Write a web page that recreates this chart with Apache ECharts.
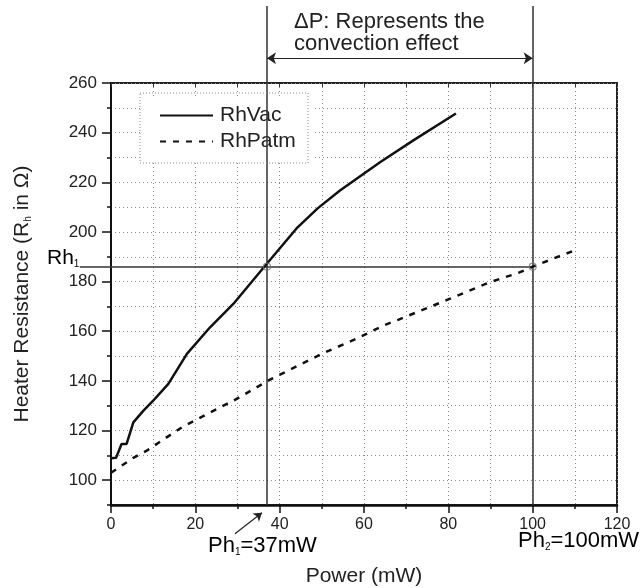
<!DOCTYPE html>
<html><head><meta charset="utf-8">
<script src="https://cdn.jsdelivr.net/npm/echarts@6/dist/echarts.min.js"></script>
<style>html,body{margin:0;padding:0;background:#fff}#c{width:643px;height:588px}</style>
</head><body><div id="c"></div>
<script>
// ---- data ----
const powerVac = [0, 1.2, 2.5, 3.7, 5.3, 7.7, 10, 13.6, 18, 23.5, 29, 36.5, 44, 49, 54.3, 63.8, 71.7, 81.8];
const rhVac    = [108.8, 109, 114.6, 114.6, 123.3, 128, 132, 138.8, 150.9, 161.6, 171, 186.3, 201.4, 209.5, 216.7, 228.1, 236.9, 247.7];
const powerAtm = [0, 2.5, 5.3, 8.5, 11.2, 16.8, 23.5, 29, 37.7, 50, 59, 64.6, 68.1, 80.4, 89.9, 96.6, 100, 109.5];
const rhAtm    = [103, 105.8, 109, 111.9, 115, 121.3, 127.3, 132, 140.5, 150.9, 157.6, 162.3, 164.6, 173.1, 179.8, 183.5, 186, 192.3];
const xTicks = [0, 20, 40, 60, 80, 100, 120];
const yTicks = [100, 120, 140, 160, 180, 200, 220, 240, 260];
const ph1 = 37, ph2 = 100, rh1 = 186;
const guideTop = 291;        // guide lines extend above the frame
const guideBottom = 90;
const arrowLevel = 270;      // ΔP double arrow level
const rhLineStart = -7.4;    // Rh1 line starts left of the axis
const ph1ArrowFrom = [29.4, 78.4];
const ph1ArrowTo = [35.8, 86.9];

const FONT = '"Liberation Sans", Arial, sans-serif';
const zip = (a, b) => a.map((v, i) => [v, b[i]]);
const dotted = { color: '#8a8a8a', width: 1, type: [1, 3] };
const richSub = (big, lh) => ({
  a: { fontSize: big, fontFamily: FONT, color: '#222', lineHeight: lh, verticalAlign: 'bottom' },
  s: { fontSize: 10, fontFamily: FONT, color: '#222', lineHeight: 12, verticalAlign: 'bottom' }
});

const chart = echarts.init(document.getElementById('c'), null, { renderer: 'canvas' });
chart.setOption({
  animation: false,
  backgroundColor: '#fff',
  textStyle: { fontFamily: FONT },
  grid: { left: 111, right: 26, top: 83, bottom: 83, outerBoundsMode: 'none', containLabel: false,
          show: true, borderColor: '#222', borderWidth: 2, backgroundColor: 'transparent' },
  xAxis: [
    {
      type: 'value', min: 0, max: 120, interval: 10, position: 'bottom',
      axisLine: { lineStyle: { color: '#111', width: 2.5 } },
      axisTick: { length: 4, lineStyle: { color: '#111', width: 1.5 } },
      axisLabel: { customValues: xTicks, fontSize: 16, color: '#222', margin: 12, fontFamily: FONT },
      splitLine: { show: true, lineStyle: dotted },
      name: 'Power (mW)', nameLocation: 'middle', nameGap: 61,
      nameTextStyle: { fontSize: 21, color: '#222', fontFamily: FONT }
    },
    {
      type: 'value', min: 0, max: 120, position: 'bottom',
      axisLine: { show: false },
      axisTick: { customValues: xTicks, length: 8, lineStyle: { color: '#111', width: 1.5 } },
      axisLabel: { show: false }, splitLine: { show: false }
    },
    {
      type: 'value', min: 0, max: 120, interval: 10, position: 'top',
      axisLine: { show: false },
      axisTick: { inside: true, length: 4, lineStyle: { color: '#333', width: 1 } },
      axisLabel: { show: false }, splitLine: { show: false }
    }
  ],
  yAxis: [
    {
      type: 'value', min: 90, max: 260, interval: 10, position: 'left',
      axisLine: { show: true, lineStyle: { color: '#111', width: 2 } },
      axisTick: { show: true, length: 4, lineStyle: { color: '#111', width: 1.5 } },
      axisLabel: { customValues: yTicks, fontSize: 17, color: '#222', margin: 14, fontFamily: FONT },
      splitLine: { show: true, lineStyle: dotted },
      name: 'Heater Resistance (R{s|h} in Ω)', nameLocation: 'middle', nameGap: 78,
      nameTextStyle: { fontSize: 21, color: '#222', fontFamily: FONT,
        rich: { s: { fontSize: 10, verticalAlign: 'bottom', fontFamily: FONT, color: '#222' } } }
    },
    {
      type: 'value', min: 90, max: 260, position: 'left',
      axisLine: { show: false },
      axisTick: { show: true, customValues: yTicks, length: 9, lineStyle: { color: '#111', width: 1.5 } },
      axisLabel: { show: false }, splitLine: { show: false }
    }
  ],
  legend: {
    data: ['RhVac', 'RhPatm'], orient: 'vertical', left: 141, top: 96,
    itemWidth: 53, itemHeight: 14, itemGap: 5,
    padding: [9, 18, 9, 18],
    backgroundColor: '#fff',
    itemStyle: { opacity: 0 },
    lineStyle: { opacity: 1 },
    textStyle: { fontSize: 21, color: '#222', fontFamily: FONT, padding: [0, 0, 0, 2] }
  },
  graphic: [
    { type: 'rect', z: 100, shape: { x: 140, y: 93, width: 168, height: 70 },
      style: { fill: 'none', stroke: '#888', lineWidth: 1, lineDash: [1, 2] } },
    { type: 'text', z: 100, left: 294, top: 11,
      style: { text: 'ΔP: Represents the', font: '22px ' + FONT, fill: '#222' } },
    { type: 'text', z: 100, left: 294, top: 33,
      style: { text: 'convection effect', font: '22px ' + FONT, fill: '#222' } },
    { type: 'text', z: 100, left: 47, top: 248,
      style: { text: '{a|Rh}{s|1}', rich: richSub(21, 24) } },
    { type: 'text', z: 100, left: 208, top: 535,
      style: { text: '{a|Ph}{s|1}{a|=37mW}', rich: richSub(22, 25) } },
    { type: 'text', z: 100, left: 518, top: 530,
      style: { text: '{a|Ph}{s|2}{a|=100mW}', rich: richSub(22, 25) } }
  ],
  series: [
    {
      name: 'RhVac', type: 'line', data: zip(powerVac, rhVac), showSymbol: false, symbol: 'none',
      lineStyle: { color: '#111', width: 2.5 }, itemStyle: { color: '#111' }, z: 5
    },
    {
      name: 'RhPatm', type: 'line', data: zip(powerAtm, rhAtm), showSymbol: false, symbol: 'none',
      lineStyle: { color: '#111', width: 2.5, type: [6, 7] }, itemStyle: { color: '#111' }, z: 5
    },
    {
      type: 'lines', coordinateSystem: 'cartesian2d', clip: false, z: 4, silent: true,
      lineStyle: { color: '#333', width: 1.5, opacity: 1 },
      data: [
        { coords: [[ph1, guideBottom], [ph1, guideTop]] },
        { coords: [[ph2, guideBottom], [ph2, guideTop]] },
        { coords: [[rhLineStart, rh1], [ph2, rh1]] }
      ]
    },
    {
      type: 'lines', coordinateSystem: 'cartesian2d', clip: false, z: 6, silent: true,
      symbol: ['arrow', 'arrow'], symbolSize: 9,
      lineStyle: { color: '#222', width: 1.2, opacity: 1 },
      data: [{ coords: [[ph1, arrowLevel], [ph2, arrowLevel]] }]
    },
    {
      type: 'lines', coordinateSystem: 'cartesian2d', clip: false, z: 6, silent: true,
      symbol: ['none', 'arrow'], symbolSize: 8,
      lineStyle: { color: '#222', width: 1.2, opacity: 1 },
      data: [{ coords: [ph1ArrowFrom, ph1ArrowTo] }]
    },
    {
      type: 'scatter', data: [[ph1, rh1], [ph2, rh1]], symbol: 'circle', symbolSize: 7, z: 7, silent: true,
      itemStyle: { color: 'rgba(255,255,255,0)', borderColor: '#777', borderWidth: 1.2 }
    }
  ]
});
</script></body></html>
